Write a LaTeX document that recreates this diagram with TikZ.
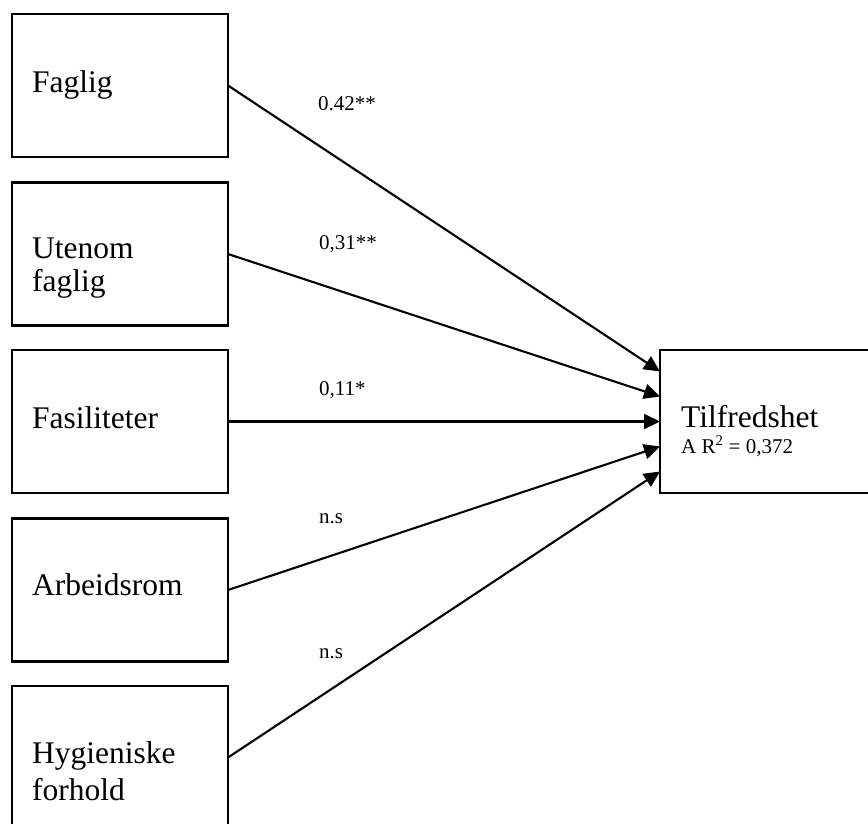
\documentclass[tikz,border=0pt]{standalone}
\usepackage{fontspec}
\setmainfont{Liberation Serif}
\usetikzlibrary{arrows.meta,calc}
\begin{document}
\begin{tikzpicture}[x=1pt,y=-1pt,
  varbox/.style={draw, line width=2.5pt, minimum width=216pt, minimum height=143pt,
    inner sep=0pt, outer sep=0pt},
  boxtext/.style={anchor=base west, inner sep=0pt, align=left,
    font=\fontsize{31.5}{35}\selectfont},
  coef/.style={anchor=base west, inner sep=0pt, font=\fontsize{21}{25}\selectfont},
  path/.style={line width=2.1pt, -{Triangle[length=16pt,width=15pt]}}]
  \useasboundingbox (0,0) rectangle (868,823);
  \clip (0,0) rectangle (868,823);

  % predictor boxes
  \node[varbox] (faglig) at (120,85.5) {};
  \node[varbox] (utenom) at (120,254) {};
  \node[varbox] (fasil)  at (120,421.5) {};
  \node[varbox] (arbeid) at (120,590) {};
  \node[varbox] (hygien) at (120,757.5) {};
  % outcome box
  \node[varbox] (tilf) at (768,421.5) {};

  % box labels (multi-line labels are placed by their last baseline)
  \node[boxtext] (tfag) at (32,92) {Faglig};
  \node[boxtext, font=\fontsize{31.5}{33}\selectfont] (tute) at (32,291) {Utenom\\faglig};
  \node[boxtext] (tfas) at (32,428) {Fasiliteter};
  \node[boxtext] (tarb) at (32,595) {Arbeidsrom};
  \node[boxtext, font=\fontsize{31.5}{37}\selectfont] (thyg) at (32,800) {Hygieniske\\forhold};
  \node[boxtext] (ttil) at (681,427) {Tilfredshet};
  \node[coef] (rsq) at (681,453) {A R\textsuperscript{2} = 0,372};

  % arrow end points on the outcome box
  \coordinate (e1) at ($(tilf.west)+(0,-50)$);
  \coordinate (e2) at ($(tilf.west)+(0,-25)$);
  \coordinate (e3) at (tilf.west);
  \coordinate (e4) at ($(tilf.west)+(0,25)$);
  \coordinate (e5) at ($(tilf.west)+(0,50)$);

  % paths
  \draw[path] (faglig.east) -- (e1);
  \draw[path] (utenom.east) -- (e2);
  \draw[path] (fasil.east)  -- (e3);
  \draw[path] (arbeid.east) -- (e4);
  \draw[path] (hygien.east) -- (e5);

  % path coefficients
  \node[coef] (c1) at (318,110) {0.42**};
  \node[coef] (c2) at (319,249) {0,31**};
  \node[coef] (c3) at (319,395) {0,11*};
  \node[coef] (c4) at (319,523) {n.s};
  \node[coef] (c5) at (319,658) {n.s};
\end{tikzpicture}
\end{document}
